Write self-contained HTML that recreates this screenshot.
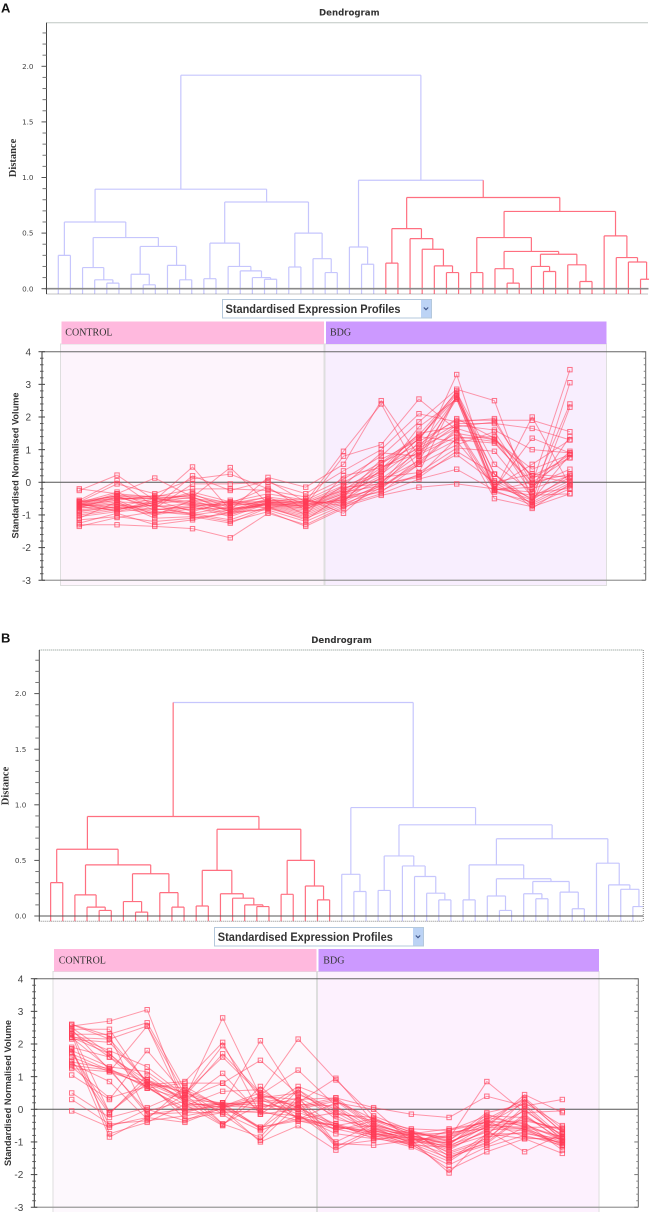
<!DOCTYPE html>
<html lang="en">
<head>
<meta charset="utf-8">
<title>Dendrograms and standardised expression profiles</title>
<style>
html,body{margin:0;padding:0;background:#fff}
svg{display:block;filter:blur(.3px)}
text{font-family:"Liberation Sans",sans-serif}
.dj{font-family:"DejaVu Sans",sans-serif}
.sr{font-family:"Liberation Serif",serif}
</style>
</head>
<body>
<svg id="fig" xmlns="http://www.w3.org/2000/svg" width="649" height="1212" viewBox="0 0 649 1212">
  <rect width="649" height="1212" fill="#fff"/>

  <!-- Panel A static -->
  <g>
    <text x="1" y="12.5" font-size="13" font-weight="bold" fill="#111">A</text>
    <text class="dj" x="319" y="15.5" font-size="8.6" font-weight="bold" fill="#333">Dendrogram</text>
    <text class="sr" transform="translate(16,158) rotate(-90)" text-anchor="middle" font-size="10.5" font-weight="bold" fill="#333">Distance</text>
    <g>
      <rect x="60.5" y="344" width="263.5" height="241.5" fill="#fdf4fc" stroke="#dedede" stroke-width="1"/>
      <rect x="325" y="344" width="281.5" height="241.5" fill="#f8eefe" stroke="#dedede" stroke-width="1"/>
      <rect x="61.5" y="321.5" width="262.5" height="22.5" fill="#ffb9de"/>
      <rect x="326" y="321.5" width="280.5" height="22.5" fill="#cc99ff"/>
      <text class="sr" x="65.3" y="335.5" font-size="10" fill="#333">CONTROL</text>
      <text class="sr" x="330" y="335.5" font-size="10" fill="#333">BDG</text>
    </g>
    <g>
      <rect x="222.5" y="299.5" width="209" height="18.5" fill="#fff" stroke="#b4c8dc"/>
      <text x="225.5" y="313" font-size="11.5" font-weight="bold" fill="#333" textLength="175" lengthAdjust="spacingAndGlyphs">Standardised Expression Profiles</text>
      <rect x="421" y="300" width="10" height="17.5" fill="#bcd3f5"/>
      <path d="M423.8 307.5l2.2 2.2 2.2-2.2" fill="none" stroke="#40568a" stroke-width="1.2"/>
    </g>
    <text transform="translate(18.5,465.5) rotate(-90)" text-anchor="middle" font-size="9" font-weight="bold" fill="#333" textLength="146" lengthAdjust="spacingAndGlyphs">Standardised Normalised Volume</text>
  </g>

  <!-- Panel B static -->
  <g>
    <text x="1" y="642.5" font-size="13" font-weight="bold" fill="#111">B</text>
    <text class="dj" x="311.3" y="643" font-size="8.6" font-weight="bold" fill="#333">Dendrogram</text>
    <text class="sr" transform="translate(8.5,786) rotate(-90)" text-anchor="middle" font-size="10.5" font-weight="bold" fill="#333">Distance</text>
    <g>
      <rect x="53" y="971.5" width="263.5" height="241" fill="#fdf8fd" stroke="#dedede" stroke-width="1"/>
      <rect x="317.5" y="971.5" width="281.5" height="241" fill="#fdf1fe" stroke="#dedede" stroke-width="1"/>
      <rect x="54" y="949" width="262.5" height="22.5" fill="#ffb9de"/>
      <rect x="318.5" y="949" width="280.5" height="22.5" fill="#cc99ff"/>
      <text class="sr" x="58.7" y="963.5" font-size="10" fill="#333">CONTROL</text>
      <text class="sr" x="323.3" y="963.5" font-size="10" fill="#333">BDG</text>
    </g>
    <g>
      <rect x="214.5" y="927.5" width="209" height="18.5" fill="#fff" stroke="#b4c8dc"/>
      <text x="217.8" y="941" font-size="11.5" font-weight="bold" fill="#333" textLength="175" lengthAdjust="spacingAndGlyphs">Standardised Expression Profiles</text>
      <rect x="413" y="928" width="10" height="17.5" fill="#bcd3f5"/>
      <path d="M415.8 935.5l2.2 2.2 2.2-2.2" fill="none" stroke="#40568a" stroke-width="1.2"/>
    </g>
    <text transform="translate(11,1093) rotate(-90)" text-anchor="middle" font-size="9" font-weight="bold" fill="#333" textLength="146" lengthAdjust="spacingAndGlyphs">Standardised Normalised Volume</text>
  </g>
</svg>

<script>
// ---------- data ----------
const leafCount = 50;
// dendrogram merges: [left, right, distance]; ids >= 100 refer to merge (id - 100)
const treeMerges = [
[0,1,.30],[4,5,.05],[3,101,.08],[2,102,.19],[7,8,.035],[6,104,.13],[10,11,.08],[9,106,.21],
[105,107,.38],[103,108,.46],[100,109,.60],[12,13,.09],[17,18,.085],[16,112,.10],[15,113,.16],
[14,114,.20],[111,115,.41],[19,20,.195],[22,23,.145],[21,118,.27],[117,119,.50],[116,120,.78],
[110,121,.895],[25,26,.22],[24,123,.375],[27,28,.23],[32,33,.145],[31,126,.205],[30,127,.355],
[29,128,.45],[125,129,.54],[34,35,.145],[37,38,.05],[36,132,.18],[40,41,.155],[39,134,.20],
[43,44,.065],[42,136,.215],[135,137,.31],[133,138,.335],[131,139,.46],[48,49,.085],[47,141,.24],
[46,142,.28],[45,143,.475],[140,144,.695],[130,145,.82],[124,146,.975],[122,147,1.92]
];
const selectedClusterA = 146;
const selectedClusterB = 122;
const distanceTicks = [0,0.1,0.2,0.3,0.4,0.5,0.6,0.7,0.8,0.9,1.0,1.1,1.2,1.3,1.4,1.5,1.6,1.7,1.8,1.9,2.0,2.1,2.2,2.3];
const distanceLabels = ["0.0","0.5","1.0","1.5","2.0"];
const volumeTicks = [4,3,2,1,0,-1,-2,-3];
const conditionCount = 14;

const profilesA = [
[-0.20,-0.35,0.13,-0.45,0.45,-0.65,-0.75,-0.35,0.35,1.35,2.70,0.25,-0.55,0.25],
[-0.25,0.22,-0.55,0.47,-0.85,0.15,-0.15,0.55,2.50,0.80,3.30,-0.20,-0.30,1.40],
[-0.55,0.05,-0.75,0.20,-0.25,0.05,-0.60,0.95,2.40,0.30,2.65,-0.20,1.35,0.90],
[-0.60,-0.05,-0.35,0.10,0.25,-0.20,-0.70,0.80,1.15,2.55,1.60,-0.25,2.00,-0.10],
[-0.62,-0.30,-0.80,-0.05,-0.05,0.00,-0.35,0.35,1.00,2.10,1.85,1.95,-0.05,3.45],
[-0.65,-0.40,-0.45,-0.20,-0.20,-0.25,-0.45,0.10,0.80,1.85,2.85,2.50,-0.60,3.05],
[-0.68,-0.45,-0.60,-0.30,-0.60,-0.35,-0.55,0.00,0.60,1.45,2.75,0.55,-0.30,2.40],
[-0.70,-0.50,-0.50,-0.40,-0.65,-0.45,-0.60,-0.10,0.30,1.35,2.60,0.25,-0.70,2.30],
[-0.72,-0.55,-0.40,-0.45,-0.85,-0.50,-0.65,-0.15,-0.05,1.25,1.90,1.90,1.90,1.55],
[-0.75,-0.60,-0.65,-0.55,-0.90,-0.55,-0.70,-0.20,0.25,1.10,1.80,1.80,1.65,1.30],
[-0.78,-0.45,-0.75,-0.65,-0.70,-0.60,-0.72,-0.25,0.10,0.95,1.75,1.60,1.00,0.90],
[-0.80,-0.65,-0.85,-0.70,-1.00,-0.62,-0.75,-0.30,-0.10,1.05,1.65,1.30,0.40,0.85],
[-0.85,-0.70,-0.95,-0.75,-1.05,-0.65,-0.80,-0.35,0.45,0.90,1.50,1.30,0.20,0.75],
[-0.90,-0.75,-1.00,-0.80,-0.80,-0.68,-0.85,-0.40,0.00,0.85,1.40,1.25,-0.10,0.40],
[-0.95,-0.80,-0.70,-0.85,-0.65,-0.70,-0.90,-0.45,-0.20,0.70,1.30,1.20,0.00,0.25],
[-1.00,-0.85,-0.55,-0.90,-0.55,-0.72,-0.95,-0.50,-0.30,0.55,1.15,1.55,-0.20,0.20],
[-1.05,-0.90,-0.80,-0.95,-1.15,-0.75,-1.00,-0.55,0.15,0.30,1.05,0.95,-0.45,0.15],
[-1.10,-0.60,-1.10,-1.05,-1.25,-0.78,-1.05,-0.60,-0.05,0.15,0.95,0.25,-0.80,-0.05],
[-1.15,-1.05,-1.20,-1.10,-0.95,-0.80,-1.10,-0.65,-0.25,0.25,0.85,0.00,-0.65,-0.10],
[-1.25,-0.95,-1.30,-1.15,-0.90,-0.85,-1.20,-0.70,-0.35,0.10,0.40,-0.25,-0.70,-0.20],
[-1.30,-1.30,-1.35,-1.42,-1.70,-0.95,-1.30,-0.75,-0.40,-0.15,-0.05,-0.20,-0.40,-0.35],
[-1.35,-1.08,-0.90,-1.00,-1.20,-0.90,-1.35,-0.80,-0.15,0.55,1.60,-0.50,-0.75,-0.35],
[-0.68,-0.35,-0.45,-0.50,-0.62,-0.58,-0.50,-0.95,0.05,0.65,2.65,0.00,0.25,0.15],
[-0.60,-0.50,-0.48,-0.60,-0.85,-0.62,-0.60,-0.62,0.60,1.15,1.95,1.35,0.20,0.00],
[-0.58,-0.42,-0.50,-0.65,-0.95,-0.60,-0.66,-0.55,0.40,1.50,1.70,1.85,0.10,0.85],
[-0.66,-0.80,-0.70,-1.00,-0.85,-0.68,-0.80,-0.45,0.70,1.30,2.80,-0.25,0.00,0.75],
[-0.75,-0.85,-0.60,-0.35,-0.80,-0.75,-1.15,-0.38,0.20,1.70,2.55,-0.22,-0.15,0.95],
[-0.72,-0.68,-0.90,-0.95,-0.75,-0.55,-0.62,-0.25,0.55,1.40,1.25,-0.10,-0.55,0.85],
[-0.70,-0.55,-1.00,-0.55,-0.65,-0.15,-0.85,-0.10,0.90,0.80,2.55,-0.30,-0.60,-0.02],
[-0.88,-0.75,-0.50,-0.70,-0.70,-0.45,-1.00,0.20,0.45,1.05,2.60,0.05,-0.50,0.05],
[-0.65,-0.90,-0.62,-0.45,-0.90,-0.65,-0.72,-0.52,-0.12,0.60,1.65,-0.15,0.55,1.30],
[-0.62,-0.42,-0.85,-0.75,-0.60,-0.80,-0.55,-0.72,-0.08,0.20,1.35,1.40,-0.35,-0.18]
];

const profilesB = [
[2.60,2.15,0.85,0.35,2.80,0.40,-0.30,-0.10,-0.35,-0.75,-0.60,-0.40,0.35,-0.60],
[2.55,2.70,3.05,0.10,0.20,0.10,0.10,0.35,0.05,-0.15,-0.25,0.40,0.10,0.30],
[2.45,2.45,0.75,0.85,2.05,-0.15,0.00,0.25,-0.30,-0.70,-0.90,0.85,-0.10,-0.05],
[2.30,2.30,2.65,0.60,0.10,0.50,2.15,0.90,-0.20,-0.65,-1.00,-0.55,0.45,-0.10],
[2.20,2.15,2.55,0.45,1.95,0.30,0.20,0.95,-0.40,-0.85,-1.05,-0.45,0.20,-0.50],
[2.15,2.05,0.85,0.50,0.15,2.10,0.30,0.35,-0.45,-0.80,-1.10,-0.70,-0.30,-0.65],
[2.25,1.80,1.30,0.40,1.70,0.50,0.05,0.30,-0.50,-0.90,-1.15,-0.80,0.30,-0.70],
[2.20,1.70,0.65,0.80,0.80,-0.05,0.70,0.25,-0.55,-0.85,-1.25,-0.60,-0.05,-0.80],
[1.90,1.60,0.90,0.50,1.60,0.45,1.20,0.10,-0.60,-0.95,-0.80,-0.35,-0.50,-0.85],
[1.80,1.30,1.15,0.35,0.80,1.50,0.45,0.00,-0.65,-0.90,-1.30,-0.90,0.00,-0.90],
[1.70,1.20,-0.05,0.25,1.10,-0.15,0.60,-0.10,-0.70,-1.00,-1.40,-1.05,-0.20,-0.95],
[1.60,1.15,2.55,0.10,0.55,0.60,-0.10,-0.45,-0.75,-1.05,-1.50,-1.00,-0.15,-1.00],
[1.45,1.25,-0.15,0.00,0.10,0.20,-0.25,-0.50,-0.80,-1.10,-1.60,-0.85,-0.70,-1.05],
[1.40,0.85,-0.30,0.70,0.05,-0.55,-0.35,-0.60,-0.85,-1.15,-1.70,-1.15,-0.80,-1.10],
[1.30,0.35,0.70,-0.10,-0.10,-0.65,-0.20,-0.75,-0.90,-1.05,-1.85,-1.30,-0.90,-1.35],
[1.05,0.30,1.80,0.45,-0.45,-0.85,0.40,-1.05,-1.10,-0.95,-1.95,-0.75,-0.75,-0.90],
[0.50,-0.25,0.05,0.55,-0.15,-0.95,0.15,-1.15,-0.60,-0.80,-1.20,-0.65,-1.30,-0.75],
[0.30,-0.45,-0.35,-0.20,0.00,-1.00,-0.50,-1.25,-0.65,-1.00,-1.00,-0.55,-0.60,-1.15],
[-0.05,-0.55,0.00,-0.35,0.10,-0.60,0.25,-1.10,-0.95,-0.75,-0.85,-0.50,-0.40,-1.25],
[2.30,-0.75,-0.40,0.15,-0.50,0.70,-0.30,-0.50,-0.30,-0.70,-0.95,-0.25,-0.45,-0.95],
[1.85,-0.85,-0.25,-0.40,0.05,0.35,0.50,-0.15,-0.25,-0.80,-1.05,-0.35,-0.85,-1.00],
[1.75,-0.10,0.80,0.30,0.20,0.00,0.05,-0.55,-0.65,-0.90,-0.95,-0.10,0.15,-0.85],
[2.50,1.70,0.75,0.65,-0.45,0.15,0.00,-0.65,-0.35,-0.60,-0.65,-0.20,-0.25,-0.75],
[2.40,1.60,0.65,0.05,0.15,-0.55,-0.30,0.20,0.00,-1.00,-1.10,-0.15,-0.55,-1.10],
[1.35,1.20,0.70,-0.05,0.10,0.40,0.30,-0.55,-0.70,-1.10,-1.15,-0.50,-0.55,-0.55],
[1.50,-0.15,1.05,0.20,0.05,0.30,-0.15,-1.00,-0.45,-0.85,-0.70,-0.60,-0.65,-1.05],
[2.35,-0.10,0.90,0.30,-0.05,-0.10,-0.20,-0.60,-0.50,-0.75,-0.75,-0.45,-0.60,-1.00],
[1.25,1.15,0.75,0.15,0.15,0.25,0.15,0.10,-0.85,-0.70,-1.35,-0.95,0.10,-0.95],
[2.60,2.25,-0.15,-0.10,0.20,-0.60,0.60,-0.30,-0.55,-1.05,-0.65,-0.40,-0.35,-0.60],
[2.45,1.20,0.85,-0.30,-0.10,-0.05,-0.35,-0.50,-0.80,-0.65,-1.45,-1.10,-0.55,-0.85],
[1.85,-0.50,-0.25,0.45,0.10,0.05,0.35,-0.20,-0.75,-0.95,-0.85,-0.30,0.30,-0.70],
[2.20,1.25,0.65,0.30,-0.48,0.45,0.05,-0.45,-0.90,-0.85,-1.55,-0.75,-0.90,-0.90]
];

// ---------- helpers ----------
const NS = "http://www.w3.org/2000/svg";
const fig = document.getElementById("fig");
function mk(parent, tag, attrs, txt) {
  const e = document.createElementNS(NS, tag);
  for (const k in attrs) e.setAttribute(k, attrs[k]);
  if (txt !== undefined) e.textContent = txt;
  parent.appendChild(e);
  return e;
}
function group(name) {
  const g = mk(fig, "g", {});
  
  
  return g;
}

// ---------- dendrogram ----------
function drawDendrogram(tag, selected, box) {
  const xLeaf = i => box.firstLeaf + i * 12.13;
  const yDist = d => box.zeroY - d * 111.2;
  const g = group("dendrogram-" + tag);

  const clip = mk(g, "clipPath", { id: "clip-" + tag });
  mk(clip, "rect", { x: box.left, y: box.top - 1, width: box.clipRight - box.left, height: box.bottom - box.top + 2 });

  const nodeX = {};
  for (let i = 0; i < leafCount; i++) nodeX[i] = xLeaf(i);
  const nodeH = {};
  const isSelected = {};
  (function mark(id) {
    isSelected[id] = true;
    if (id >= 100) {
      const m = treeMerges[id - 100];
      mark(m[0]);
      mark(m[1]);
    }
  })(selected);
  const blue = "#c6c6fd", red = "#ff6f80";

  const tree = mk(g, "g", { "clip-path": "url(#clip-" + tag + ")", fill: "none", "stroke-width": "1.2" });
  treeMerges.forEach((m, k) => {
    const id = 100 + k;
    const xa = nodeX[m[0]], xb = nodeX[m[1]];
    nodeX[id] = (xa + xb) / 2;
    nodeH[id] = m[2];
    const y = yDist(m[2]);
    const ya = m[0] >= 100 ? yDist(nodeH[m[0]]) : box.bottom;
    const yb = m[1] >= 100 ? yDist(nodeH[m[1]]) : box.bottom;
    const bar = mk(tree, "path", { d: `M${xa} ${y}H${xb}`, stroke: isSelected[id] ? red : blue });
    
    
    const stemA = mk(tree, "path", { d: `M${xa} ${ya}V${y}`, stroke: isSelected[m[0]] ? red : blue });
    
    
    const stemB = mk(tree, "path", { d: `M${xb} ${yb}V${y}`, stroke: isSelected[m[1]] ? red : blue });
    
    
  });

  // frame
  const topLine = mk(g, "line", { x1: box.left, x2: box.right, y1: box.top, y2: box.top, stroke: "#7f8f88", "stroke-width": 1, "stroke-dasharray": "1 1" });
  
  
  const botLine = mk(g, "line", { x1: box.left, x2: box.right, y1: box.bottom, y2: box.bottom, stroke: "#888", "stroke-width": 1, "stroke-dasharray": "1 1" });
  
  
  if (box.rightBorder) {
    const rLine = mk(g, "line", { x1: box.right, x2: box.right, y1: box.top, y2: box.bottom, stroke: "#888", "stroke-width": 1, "stroke-dasharray": "1 1" });
    
    
  }
  const zero = mk(g, "line", { x1: box.left - 1, x2: box.right, y1: box.zeroY, y2: box.zeroY, stroke: box.zeroColor, "stroke-width": box.zeroWidth });
  
  
  const axis = mk(g, "line", { x1: box.left, x2: box.left, y1: box.top, y2: box.bottom, stroke: "#444", "stroke-width": 1 });
  
  

  distanceTicks.forEach((d, i) => {
    const major = i % 5 === 0;
    const y = yDist(d);
    const t = mk(g, "line", { x1: box.left - (major ? 5 : 4), x2: box.left, y1: y, y2: y, stroke: major ? "#555" : "#777", "stroke-width": 1 });
    
    
    if (major) {
      const l = mk(g, "text", { x: box.left - 13, y: y + 2.6, "text-anchor": "end", "font-size": 7.2, class: "dj", fill: "#444" }, distanceLabels[i / 5]);
      
      
    }
  });
}

// ---------- profile plot ----------
function drawProfiles(tag, rows, box) {
  const xCond = c => box.firstX + c * 37.74;
  const yVal = v => box.zeroY - v * 32.65;
  const g = group("expression-plot-" + tag);

  const fr = mk(g, "path", { d: `M${box.left} ${yVal(4)}H${box.right}V${yVal(-3)}`, fill: "none", stroke: "#666", "stroke-width": 1 });
  
  
  const bot = mk(g, "line", { x1: box.left, x2: box.right, y1: yVal(-3), y2: yVal(-3), stroke: "#9a9a9a", "stroke-width": 1.3 });
  
  
  const zero = mk(g, "line", { x1: box.left, x2: box.right, y1: yVal(0), y2: yVal(0), stroke: "#555", "stroke-width": 1 });
  
  
  const ax = mk(g, "line", { x1: box.left, x2: box.left, y1: yVal(4), y2: yVal(-3), stroke: "#333", "stroke-width": 1 });
  
  

  volumeTicks.forEach(v => {
    const major = mk(g, "line", { x1: box.left - 3.5, x2: box.left + 3, y1: yVal(v), y2: yVal(v), stroke: "#444", "stroke-width": 1 });
    
    
    const rt = mk(g, "line", { x1: box.right - 4, x2: box.right, y1: yVal(v), y2: yVal(v), stroke: "#777", "stroke-width": 1 });
    
    
    const lab = mk(g, "text", { x: box.left - 11, y: yVal(v) + 3.6, "text-anchor": "end", "font-size": 10, fill: "#444" }, String(v));
    
    
    if (v > -3) {
      for (let s = 1; s < 5; s++) {
        const yy = yVal(v - s * 0.2);
        const minor = mk(g, "line", { x1: box.left - 2, x2: box.left + 1.5, y1: yy, y2: yy, stroke: "#555", "stroke-width": 1 });
        
        
        const mr = mk(g, "line", { x1: box.right - 2, x2: box.right, y1: yy, y2: yy, stroke: "#888", "stroke-width": 1 });
        
        
      }
    }
  });

  const series = mk(g, "g", {});
  
  
  rows.forEach(row => {
    const pts = [];
    for (let c = 0; c < conditionCount; c++) pts.push(xCond(c).toFixed(2) + "," + yVal(row[c]).toFixed(2));
    const line = mk(series, "polyline", { points: pts.join(" "), fill: "none", stroke: "#ff3a55", "stroke-opacity": 0.5, "stroke-width": 1 });
    
    
  });
  rows.forEach(row => {
    for (let c = 0; c < conditionCount; c++) {
      const m = mk(series, "rect", { x: xCond(c) - 2.2, y: yVal(row[c]) - 2.2, width: 4.4, height: 4.4, fill: "none", stroke: "#ff3a55", "stroke-opacity": 0.7, "stroke-width": 1 });
      
      
    }
  });
}

drawDendrogram("a", selectedClusterA, { firstLeaf: 58.3, zeroY: 288.7, top: 22.7, bottom: 294, left: 46.5, right: 648.5, clipRight: 649, rightBorder: false, zeroColor: "#8a8a8a", zeroWidth: 1.6 });
drawDendrogram("b", selectedClusterB, { firstLeaf: 50.63, zeroY: 916, top: 650, bottom: 921.3, left: 39.3, right: 643.3, clipRight: 643.3, rightBorder: true, zeroColor: "#555", zeroWidth: 1 });
drawProfiles("a", profilesA, { firstX: 79.3, zeroY: 482.3, left: 42, right: 645.7 });
drawProfiles("b", profilesB, { firstX: 71.7, zeroY: 1109.3, left: 34.3, right: 638.3 });
</script>
</body>
</html>
